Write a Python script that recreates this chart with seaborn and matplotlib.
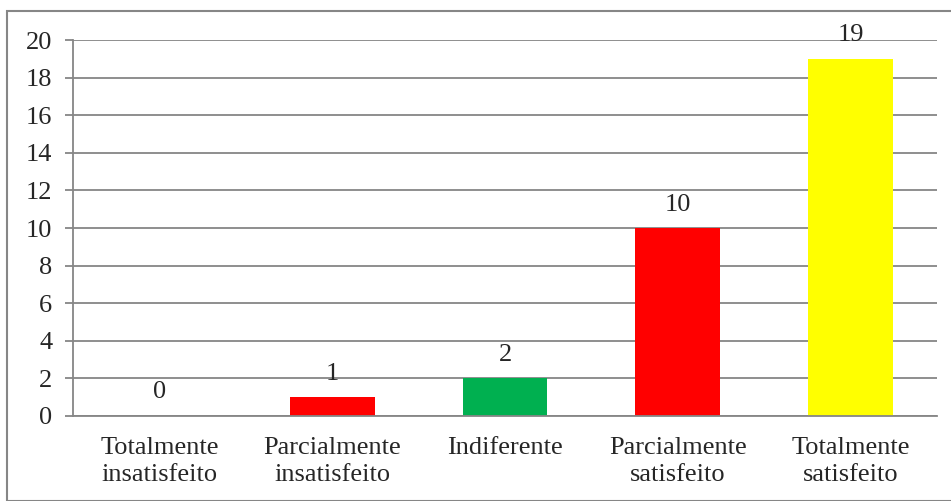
import numpy as np
import pandas as pd
import matplotlib
matplotlib.use("Agg")
import matplotlib.pyplot as plt
import seaborn as sns
from matplotlib.patches import Rectangle

categories = ["Totalmente\ninsatisfeito", "Parcialmente\ninsatisfeito", "Indiferente",
              "Parcialmente\nsatisfeito", "Totalmente\nsatisfeito"]
values = [0, 1, 2, 10, 19]
bar_colors = ["#FF0000", "#FF0000", "#00B050", "#FF0000", "#FFFF00"]
y_ticks = list(range(0, 21, 2))

sns.set_style("white")
plt.rcParams["font.family"] = ["Liberation Serif", "DejaVu Serif"]
fs = 19

df = pd.DataFrame({"categoria": categories, "valor": values})

fig = plt.figure(figsize=(9.51, 5.01), dpi=100)
ax = fig.add_axes([0.0768, 0.1697, 0.9085, 0.7503])

sns.barplot(data=df, x="categoria", y="valor", hue="categoria", palette=bar_colors,
            legend=False, width=0.49, saturation=1, linewidth=0, ax=ax)

for cont in ax.containers:
    ax.bar_label(cont, fmt="%d", padding=9, fontsize=fs)

grid_c = "#868686"
ax.set_ylim(0, 20)
ax.set_xlim(-0.5, len(categories) - 0.5)
ax.set_yticks(y_ticks)
ax.yaxis.grid(True, color=grid_c, linewidth=1.3)
ax.set_axisbelow(True)
ax.set_xlabel("")
ax.set_ylabel("")

# tick marks between categories
ax.set_xticks(np.arange(-0.5, len(categories), 1.0), minor=True)
ax.tick_params(axis="x", which="major", length=0, pad=15, labelsize=fs)
ax.tick_params(axis="x", which="minor", length=4.5, width=1.3, color=grid_c, direction="out")
ax.tick_params(axis="y", length=6, width=1.3, color=grid_c, direction="out", pad=9, labelsize=fs)
ax.tick_params(axis="both", bottom=True, left=True)
for lbl in ax.get_xticklabels():
    lbl.set_linespacing(1.3)

sns.despine(ax=ax, top=True, right=True)
for side in ["left", "bottom"]:
    ax.spines[side].set_color(grid_c)
    ax.spines[side].set_linewidth(1.3)

# chart border
fig.patches.append(Rectangle((7 / 951, 0), 1.1, 1 - 11 / 501, transform=fig.transFigure,
                             fill=False, edgecolor=grid_c, linewidth=1.5))

fig.savefig("out.png", dpi=100)
